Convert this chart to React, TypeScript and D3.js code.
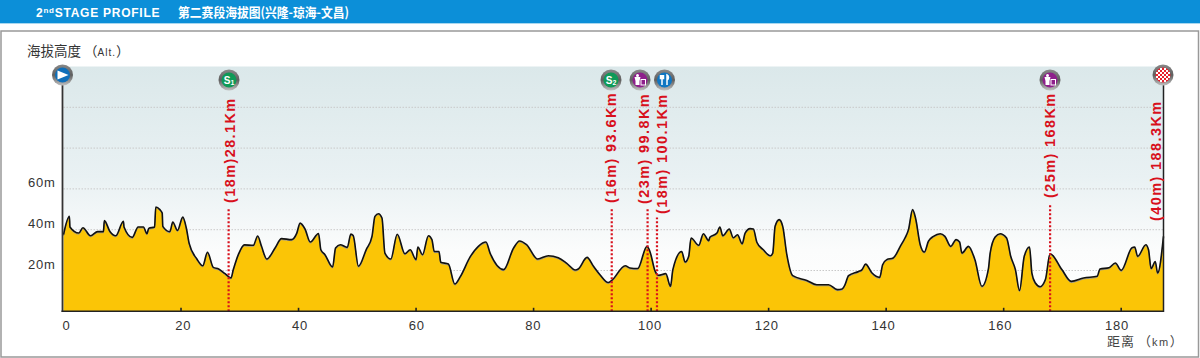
import React from "react";
import * as d3 from "d3";

const profileKm = [0,1,1.1,2.6,3.3,4.6,5.8,6.8,6.95,7.9,8.9,10.2,10.3,11.7,12.7,13.6,14.2,14.5,15.5,15.7,16.4,16.8,16.9,18.1,18.6,19.4,20.3,20.9,21.4,22.7,23.7,24.5,25.5,26.4,27.5,28.5,28.9,29.8,30.8,32.3,33.05,33.7,34.6,36,37.1,38.8,39.7,40.26,41.1,42,43.4,43.8,44.5,45.8,46.3,47.1,48.3,48.9,49.3,50.2,51.5,52.5,53,53.6,54.2,54.7,55.7,56.8,58.1,59,60,60.3,61.1,62.1,62.7,63.1,63.9,64.2,65.5,66.6,67.5,69.2,70.6,71.9,72.6,74.9,76.6,77.6,78.8,80.7,82.5,84.2,85.6,87.1,87.6,89.1,90.2,91.3,92.7,93.3,95.6,96.4,97.7,99.3,99.8,100.7,101.25,102.5,103.3,103.7,105.2,105.8,106.4,106.8,108.1,108.9,109.8,110,111.2,111.7,112.2,113.3,114,114.7,115.5,116,116.85,117.4,118,119.1,120.3,120.7,121.1,121.8,122.4,123.1,124.1,126.5,128.2,130.2,131.7,132.5,133,133.6,135.3,135.9,136.5,137.6,138.9,139.4,140.1,141.2,142.4,143.2,143.8,144.5,145,145.8,146.5,147.2,148.05,149.2,150,151,151.9,152.5,152.9,154,155.1,156.3,157.4,157.7,158.55,159.4,160.5,161.2,162,162.7,163.5,164.4,164.8,165.4,166.2,167.1,167.9,169.9,171.5,173.6,175.9,176.4,177.9,179,180,181.8,182.3,182.8,184.2,184.65,185.1,185.8,186.2,187.2];
const profileAlt = [37.4,46.4,41.2,38.2,40.8,36.9,38.9,38.9,44.3,39,36.9,44,41.2,36.1,41.2,41.2,37.9,40.5,41.2,51,49.7,48,41.5,38.9,43.6,39.5,46,40.7,33,25.5,22.2,28.8,21.4,20.6,18.3,16.2,20.3,28,32.4,32.2,36.8,31.7,25.5,30.9,35.5,35,38.2,43.1,40.2,33.8,38,30,27.6,21.6,30.9,32.5,31.2,37.7,37,21.9,30,36.6,46.4,47.7,45.6,28.4,25.5,37.6,28.1,30,25.2,31.4,27.6,36.9,35,29.2,29.2,23.9,23,13.2,16.7,26.5,31.7,33.8,28.4,20.3,30.9,34.3,32.5,25.5,27.1,26.1,23.5,20.1,20.6,26.3,21.9,17.8,14,15,22.2,21.1,20.8,31.7,29.2,19.4,17.5,18.3,12.1,20.3,29.2,24,26.8,35.8,32.2,37.9,34.5,36.1,38.2,41.2,36.9,40.2,35.9,37.4,33,38.2,40.4,40.2,33.7,30,27.1,28.4,41.5,44.8,41.5,27.6,17.3,15,12.9,12.9,10.5,10.8,12.9,17.3,19.4,20.3,23,18.6,16.5,22.7,25.2,26,31.7,35.8,39.9,49.7,45.6,32.5,28.9,34.2,36.6,37.9,36.6,31.7,35,33.8,28.4,31.7,25.2,12.1,20.6,28.4,36.3,37.9,35.8,26.8,20.3,10.1,26.8,31.4,18.6,13.7,11.9,15.4,28.1,20.3,14.5,16.2,17,20.6,21.2,23.5,19.9,30.9,31.4,26.8,32.5,30,20.8,24.3,18.6,36.6];

const xTicks = [0,20,40,60,80,100,120,140,160,180];
const yLabels = [20,40,60];
const yGrid = [20,40,60,80,100];

const markerLabels = ["(18m)28.1Km","(16m) 93.6Km","(23m) 99.8Km","(18m) 100.1Km","(25m) 168Km","(40m) 188.3Km"];
const markerLineKm = [28.1,93.3,99.4,101,167.9,187.2];
const markerLineTopAlt = [50.5,50.5,50,46,53,0];
const markerLabelPx = [230,611,644,662,1050,1156];
const markerLabelStartY = [203,203,204,214,198,221];
const iconKinds = ["s1","s2","wc","food","wc"];
const iconPx = [229,611,640,664.5,1050];

const W = 1200, H = 358;
const x = d3.scaleLinear().domain([0,187.2]).range([63.5,1163.5]);
const xLabel = d3.scaleLinear().domain([0,180]).range([66.5,1117]);
const y = d3.scaleLinear().domain([0,120]).range([311.3,66.5]);
const pts: [number,number][] = profileKm.map((k,i)=>[k,profileAlt[i]]);
const area = d3.area<[number,number]>().x(d=>x(d[0])).y0(y(0)).y1(d=>y(d[1])).curve(d3.curveMonotoneX);
const line = d3.line<[number,number]>().x(d=>x(d[0])).y(d=>y(d[1])).curve(d3.curveMonotoneX);
const sans = "'Liberation Sans', Arial, sans-serif";
const cjk = "'Noto Sans CJK SC', sans-serif";

function Badge({cx,cy,kind}:{cx:number,cy:number,kind:string}) {
  const fill = kind==="wc"?"#8e1f8b":kind==="food"?"#0f76c2":kind==="start"?"#0f6fba":kind==="finish"?"#e8202c":"#0f9a58";
  return <g transform={`translate(${cx},${cy})`}>
    <circle r={10.5} fill="url(#ring)"/>
    <circle r={7.5} fill={fill}/>
    {kind==="start" && <path d="M-5,-4.5L6,0L-5,4.5Z" fill="#fff"/>}
    {kind==="s1"||kind==="s2" ? <text x={0} y={3.5} textAnchor="middle" fill="#fff" fontFamily={sans} fontWeight="700" fontSize={10}>S<tspan fontSize={7} dy={1}>{kind==="s1"?"1":"2"}</tspan></text> : null}
    {kind==="wc" && <g fill="#fff"><circle cx={-2.5} cy={-4.5} r={1.5}/><path d="M-5.5,-3H0.5L-0.5,1V5H-4.5V1Z"/><rect x={1} y={-0.5} width={4.5} height={5.5} fill="none" stroke="#fff" strokeWidth={1}/></g>}
    {kind==="food" && <g stroke="#fff" strokeWidth={1.5} fill="none"><path d="M-2.5,-5V5M-4,-5V-1.5H-1V-5"/><path d="M2.5,5V-5C4.5,-4 4.5,-1 2.5,0"/></g>}
    {kind==="finish" && d3.range(-3,4).flatMap(i=>d3.range(-3,4).filter(j=>(i+j+6)%2===0 && i*i+j*j<12).map(j=><rect key={`${i}_${j}`} x={i*2-1} y={j*2-1} width={2} height={2} fill="#fff"/>))}
  </g>;
}

export default function App() {
  return (
    <svg width={W} height={H} style={{position:"fixed",left:0,top:0,display:"block",background:"#fff"}}>
      <defs>
        <linearGradient id="sky" x1="0" y1="0" x2="0" y2="1">
          <stop offset="0" stopColor="#dbe8ea"/>
          <stop offset="0.45" stopColor="#e9f1f3"/>
          <stop offset="0.75" stopColor="#fbfcfc"/>
          <stop offset="1" stopColor="#ffffff"/>
        </linearGradient>
        <linearGradient id="ring" x1="0" y1="0" x2="0" y2="1">
          <stop offset="0" stopColor="#8a8a8a"/>
          <stop offset="0.5" stopColor="#5f5f5f"/>
          <stop offset="1" stopColor="#c0c0c0"/>
        </linearGradient>
      </defs>
      <rect x={0} y={0} width={W} height={23} fill="#0c8fd8"/>
      <rect x={0} y={23} width={W} height={1} fill="#a8d8f0"/>
      <rect x={1} y={31} width={1197.5} height={326} fill="none" stroke="#999" strokeWidth={1.5}/>
      <text x={36} y={16.5} fill="#fff" fontFamily={sans} fontWeight="700" fontSize={12} letterSpacing={0.75}>2<tspan fontSize={8} dy={-4}>nd</tspan><tspan dy={4}>STAGE PROFILE</tspan></text>
      <text x={178} y={17} fill="#fff" fontFamily={cjk} fontWeight="700" fontSize={13} textLength={171} lengthAdjust="spacingAndGlyphs">第二赛段海拔图(兴隆-琼海-文昌)</text>
      <text x={27} y={56} fill="#333" fontFamily={cjk} fontSize={13.5}>海拔高度<tspan dx={3} fontFamily={cjk}>（</tspan><tspan fontFamily={sans} fontSize={10} letterSpacing={1}>Alt.</tspan><tspan fontFamily={cjk}>）</tspan></text>

      <rect x={x(0)} y={y(120)} width={x(187.2)-x(0)} height={y(0)-y(120)} fill="url(#sky)"/>
      {yGrid.map(v=><line key={v} x1={x(0)} x2={x(187.2)} y1={y(v)} y2={y(v)} stroke="#c9c9c9" strokeWidth={1} strokeDasharray="1.5 1.5"/>)}
      <path d={area(pts)!} fill="#fbc506"/>
      <path d={line(pts)!} fill="none" stroke="#999" strokeWidth={1} transform="translate(0,0.8)"/>
      <path d={line(pts)!} fill="none" stroke="#111" strokeWidth={1.6} transform="translate(0,-0.3)"/>

      {markerLineKm.slice(0,5).map((k,i)=><line key={i} x1={x(k)} x2={x(k)} y1={y(0)} y2={y(markerLineTopAlt[i])} stroke="#d8101c" strokeWidth={2.2} strokeDasharray="2 2"/>)}

      <line x1={62.5} x2={62.5} y1={80} y2={312} stroke="#333" strokeWidth={1.8}/>
      <line x1={1163.5} x2={1163.5} y1={80} y2={312} stroke="#222" strokeWidth={1.5}/>
      <line x1={61.5} x2={1164} y1={y(0)} y2={y(0)} stroke="#222" strokeWidth={1.6}/>
      {xTicks.slice(1).map(t=><line key={t} x1={x(t)} x2={x(t)} y1={y(0)} y2={y(0)-3.5} stroke="#222" strokeWidth={1.6}/>)}
      {xTicks.map(t=><text key={t} x={xLabel(t)} y={330} textAnchor="middle" fill="#333" fontFamily={sans} fontSize={13} letterSpacing={0.8}>{t}</text>)}
      {yLabels.map(v=><text key={v} x={28} y={y(v)-2} fill="#333" fontFamily={sans} fontSize={13} letterSpacing={0.7}>{v}m</text>)}
      <text x={1107} y={346} fill="#444" fontFamily={cjk} fontSize={13} letterSpacing={1}>距离<tspan dx={3}>（</tspan><tspan fontFamily={sans} fontSize={11} letterSpacing={1.5}>km</tspan>）</text>

      {markerLabels.map((s,i)=><text key={s} transform={`translate(${markerLabelPx[i]+5},${markerLabelStartY[i]}) rotate(-90)`} fill="#d8101c" fontFamily={sans} fontWeight="700" fontSize={14.5} letterSpacing={1.4}>{s}</text>)}

      {iconKinds.map((k,i)=><Badge key={i} cx={iconPx[i]} cy={80} kind={k}/>)}
      <Badge cx={62.5} cy={75} kind="start"/>
      <Badge cx={1163} cy={75} kind="finish"/>
    </svg>
  );
}
